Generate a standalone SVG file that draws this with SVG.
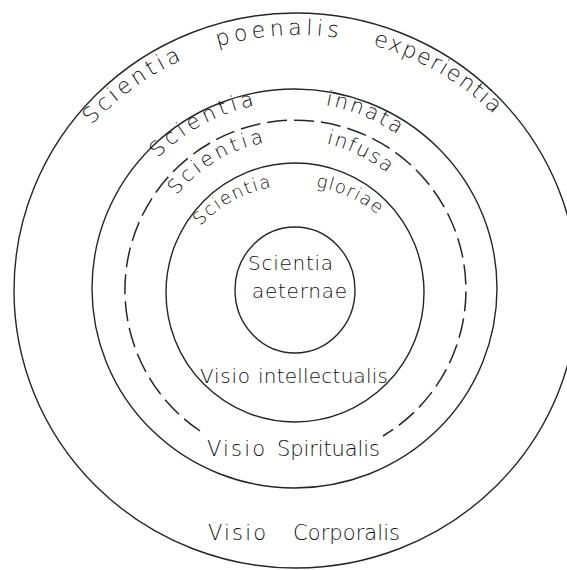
<svg xmlns="http://www.w3.org/2000/svg" xmlns:xlink="http://www.w3.org/1999/xlink" width="567" height="570" viewBox="0 0 567 570">
<style>
.ring{fill:none;stroke:#262626;stroke-width:1.4}
.dash{fill:none;stroke:#262626;stroke-width:1.5;stroke-dasharray:20 7}
.t{font-family:"DejaVu Sans","Liberation Sans",sans-serif;font-weight:200;fill:#111111}
</style>
<defs>
<path id="p1" d="M 91.8 125.1 A 281 281 0 0 1 513.3 135.4"/>
<path id="p2" d="M 157.7 158.4 A 188 188 0 0 1 412.8 146"/>
<path id="p3" d="M 176.4 195.6 A 150 150 0 0 1 399.1 183.9"/>
<path id="p4" d="M 200.1 226.2 A 130 130 0 0 1 386.9 223.1"/>
</defs>
<rect width="567" height="570" fill="#ffffff"/>
<g id="ring-corporalis">
<ellipse class="ring" cx="296" cy="290.5" rx="282" ry="277.5"/>
<text class="t" font-size="22"><textPath xlink:href="#p1" startOffset="0" letter-spacing="3.4">Scientia</textPath> <textPath xlink:href="#p1" startOffset="150" letter-spacing="4.2">poenalis</textPath> <textPath xlink:href="#p1" startOffset="307" letter-spacing="1.6">experientia</textPath></text>
<text class="t" font-size="21" y="540"><tspan x="208" textLength="58">Visio</tspan> <tspan x="293" textLength="107">Corporalis</tspan></text>
</g>
<g id="ring-spiritualis">
<ellipse class="ring" cx="294.5" cy="288.5" rx="202.5" ry="199.5"/>
<text class="t" font-size="21"><textPath xlink:href="#p2" startOffset="0" letter-spacing="4">Scientia</textPath> <textPath xlink:href="#p2" startOffset="183" letter-spacing="2.4">innata</textPath></text>
</g>
<g id="ring-dashed">
<path class="dash" d="M 200 431 A 170.5 170 0 1 1 383 436"/>
<text class="t" font-size="20"><textPath xlink:href="#p3" startOffset="0" letter-spacing="3.5">Scientia</textPath> <textPath xlink:href="#p3" startOffset="167" letter-spacing="1.5">infusa</textPath></text>
<text class="t" font-size="21" y="456"><tspan x="207" textLength="58">Visio</tspan> <tspan x="277" textLength="103">Spiritualis</tspan></text>
</g>
<g id="ring-intellectualis">
<ellipse class="ring" cx="295" cy="292.5" rx="129" ry="129.5"/>
<text class="t" font-size="18"><textPath xlink:href="#p4" startOffset="0" letter-spacing="1.5">Scientia</textPath> <textPath xlink:href="#p4" startOffset="127" letter-spacing="1.2">gloriae</textPath></text>
<text class="t" font-size="20" y="383"><tspan x="200" textLength="50">Visio</tspan> <tspan x="258" textLength="130">intellectualis</tspan></text>
</g>
<g id="core-aeternae">
<ellipse class="ring" cx="295" cy="290" rx="60" ry="63"/>
<text class="t" font-size="20" x="248" y="270" textLength="85">Scientia</text>
<text class="t" font-size="20" x="252" y="298" textLength="95">aeternae</text>
</g>
</svg>
